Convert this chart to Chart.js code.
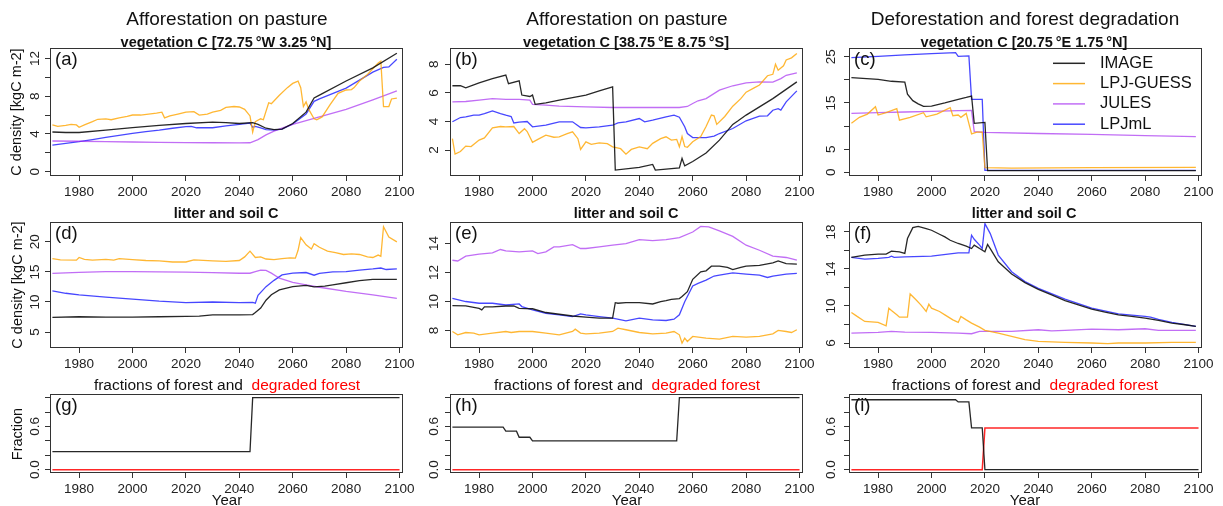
<!DOCTYPE html>
<html>
<head>
<meta charset="utf-8">
<script src="https://cdn.jsdelivr.net/npm/chart.js@4.4.0/dist/chart.umd.min.js"></script>
<style>
  body { margin: 0; background: #fff; width: 1223px; height: 506px; overflow: hidden; position: relative;
         font-family: 'Liberation Sans', Arial, Helvetica, sans-serif; color: #111; }
  canvas { position: absolute; }
  .t { position: absolute; white-space: nowrap; line-height: 1; transform: translate(-50%, -50%); }
  .lett { position: absolute; white-space: nowrap; line-height: 1; transform: translate(0, -50%); font-size: 18.5px; }
</style>
</head>
<body>
<script>
// ---- data: [year, value] ----
const xTicks = [1980, 2000, 2020, 2040, 2060, 2080, 2100];
const modelNames = ['IMAGE', 'LPJ-GUESS', 'JULES', 'LPJmL'];
const fracNames = ['forest', 'degraded forest'];

// (a) vegetation C 72.75W 3.25N
const vegA_image = [[1970,4.2],[1975,4.15],[1980,4.15],[1990,4.4],[2000,4.66],[2010,4.9],[2020,5.1],[2030,5.25],[2035,5.2],[2040,5.1],[2045,5.2],[2047,5.0],[2050,4.6],[2053,4.45],[2056,4.5],[2060,5.1],[2065,6.3],[2068,7.8],[2070,8.1],[2080,9.6],[2090,11.0],[2099,12.55]];
const vegA_guess = [[1970,4.95],[1972,4.8],[1975,4.9],[1977,5.0],[1979,4.95],[1980,4.7],[1982,4.95],[1985,5.3],[1987,5.55],[1990,5.6],[1992,5.5],[1995,5.7],[1998,5.85],[2000,6.0],[2003,6.0],[2006,6.1],[2009,6.2],[2011,6.3],[2012,5.7],[2014,5.9],[2017,6.1],[2020,6.3],[2023,6.35],[2025,6.0],[2028,6.1],[2030,6.3],[2033,6.5],[2035,6.8],[2038,6.9],[2040,6.85],[2042,6.6],[2044,5.9],[2045,4.2],[2046,5.3],[2048,5.6],[2049,5.5],[2051,7.3],[2052,7.2],[2055,8.1],[2058,8.9],[2060,9.35],[2062,9.6],[2063,8.9],[2064,6.9],[2065,7.4],[2066,6.6],[2068,5.6],[2069,5.5],[2071,5.8],[2074,7.1],[2077,8.3],[2080,8.65],[2082,8.7],[2083,8.9],[2085,9.6],[2088,10.3],[2090,10.9],[2092,11.5],[2093,11.7],[2094,6.9],[2096,6.9],[2097,7.7],[2099,7.8]];
const vegA_jules = [[1970,3.25],[1980,3.22],[1990,3.18],[2000,3.14],[2010,3.1],[2020,3.08],[2030,3.06],[2040,3.05],[2044,3.06],[2047,3.4],[2050,3.9],[2053,4.3],[2056,4.6],[2060,5.0],[2070,5.8],[2080,6.6],[2090,7.6],[2099,8.55]];
const vegA_lpjml = [[1970,2.82],[1975,3.0],[1980,3.18],[1985,3.4],[1990,3.64],[1995,3.85],[2000,4.06],[2005,4.25],[2010,4.4],[2015,4.6],[2020,4.76],[2022,4.8],[2024,4.65],[2030,4.65],[2035,4.84],[2040,5.0],[2044,5.15],[2045,4.7],[2046,4.8],[2048,4.65],[2050,4.45],[2053,4.4],[2056,4.5],[2060,5.05],[2065,6.1],[2068,7.45],[2070,7.7],[2080,8.85],[2090,10.55],[2094,11.05],[2096,11.1],[2099,11.9]];

// (b) vegetation C 38.75E 8.75S
const vegB_image = [[1970,6.5],[1973,6.5],[1975,6.35],[1980,6.7],[1985,7.0],[1990,7.25],[1991,6.65],[1995,6.85],[1996,5.85],[1999,5.75],[2000,5.85],[2001,5.2],[2005,5.3],[2010,5.5],[2020,5.85],[2025,6.15],[2030,6.42],[2031,0.6],[2040,0.8],[2045,1.0],[2046,0.6],[2055,0.75],[2056,1.42],[2057,0.9],[2060,1.2],[2065,1.8],[2070,2.7],[2075,3.8],[2077,4.05],[2080,4.45],[2090,5.6],[2099,6.77]];
const vegB_guess = [[1970,2.8],[1971,1.72],[1973,1.9],[1975,2.28],[1977,2.25],[1980,2.7],[1982,2.85],[1985,3.55],[1988,3.65],[1990,3.63],[1993,3.65],[1995,3.16],[1997,3.5],[1998,3.3],[2000,2.55],[2002,2.75],[2005,3.05],[2008,2.9],[2010,2.93],[2013,3.15],[2015,3.28],[2017,2.8],[2018,2.05],[2020,2.58],[2022,2.4],[2025,2.5],[2028,2.45],[2030,2.23],[2033,2.1],[2035,1.72],[2037,2.05],[2040,2.23],[2043,2.1],[2045,2.47],[2048,2.8],[2050,2.93],[2052,2.7],[2054,2.75],[2055,2.23],[2056,2.95],[2057,2.25],[2058,2.2],[2060,2.58],[2063,2.95],[2065,3.65],[2067,4.45],[2068,4.4],[2069,3.8],[2072,4.35],[2075,5.07],[2078,5.6],[2080,6.05],[2083,6.35],[2085,6.55],[2088,7.2],[2090,7.3],[2091,8.0],[2092,7.58],[2094,7.9],[2095,8.3],[2097,8.45],[2099,8.75]];
const vegB_jules = [[1970,5.37],[1975,5.4],[1980,5.49],[1985,5.6],[1990,5.55],[1995,5.55],[1999,5.5],[2000,5.2],[2005,5.15],[2010,5.07],[2020,5.02],[2030,4.98],[2040,4.98],[2050,4.98],[2055,4.98],[2058,5.05],[2060,5.26],[2062,5.45],[2065,5.6],[2070,6.19],[2075,6.5],[2080,6.7],[2085,6.77],[2090,6.75],[2093,7.0],[2095,7.23],[2099,7.4]];
const vegB_lpjml = [[1970,3.98],[1973,4.28],[1975,4.33],[1978,4.45],[1980,4.44],[1982,4.55],[1985,4.74],[1988,4.55],[1990,4.44],[1992,4.35],[1993,3.9],[1995,3.95],[1998,4.0],[2000,3.63],[2005,3.74],[2010,3.98],[2015,3.98],[2018,3.58],[2020,3.56],[2025,3.63],[2030,3.74],[2032,3.9],[2035,3.98],[2040,4.21],[2042,3.98],[2045,4.1],[2050,4.33],[2053,4.44],[2055,4.3],[2057,3.63],[2058,3.16],[2060,2.88],[2065,2.88],[2068,2.98],[2070,3.16],[2075,3.51],[2080,4.05],[2085,4.37],[2088,4.4],[2090,4.79],[2092,4.9],[2093,4.8],[2095,5.37],[2099,6.14]];

// (c) vegetation C 20.75E 1.75N
const vegC_image = [[1970,20.5],[1980,20.1],[1985,19.7],[1990,19.5],[1991,16.9],[1993,15.5],[1995,14.8],[1997,14.25],[2000,14.3],[2005,15.0],[2010,15.8],[2013,16.2],[2015,16.5],[2016,10.6],[2020,10.8],[2021,0.35],[2099,0.35]];
const vegC_guess = [[1970,10.6],[1973,11.9],[1976,12.6],[1979,14.2],[1980,12.4],[1983,12.9],[1987,13.8],[1988,11.3],[1992,11.9],[1997,12.9],[1998,12.0],[2002,12.6],[2007,14.0],[2008,12.25],[2010,12.4],[2011,11.9],[2013,12.75],[2015,8.3],[2017,8.7],[2019,8.7],[2020,1.0],[2030,0.9],[2060,1.0],[2099,1.05]];
const vegC_jules = [[1970,12.75],[1980,12.9],[1990,13.05],[2000,13.2],[2010,13.35],[2015,13.4],[2016,8.8],[2020,8.65],[2040,8.4],[2060,8.2],[2080,7.95],[2099,7.7]];
const vegC_lpjml = [[1970,24.8],[1980,25.1],[1990,25.4],[2000,25.7],[2009,25.9],[2010,25.1],[2014,25.2],[2015,15.8],[2019,15.8],[2020,0.4],[2099,0.4]];

// (d) litter and soil C, site of (a)
const soilD_image = [[1970,7.45],[1980,7.55],[1990,7.5],[2000,7.5],[2010,7.55],[2020,7.6],[2025,7.65],[2030,7.85],[2040,7.85],[2045,7.9],[2046,8.25],[2048,9.0],[2050,10.3],[2052,11.2],[2055,12.0],[2060,12.55],[2065,12.75],[2068,12.5],[2072,12.65],[2075,12.85],[2080,13.2],[2085,13.55],[2090,13.75],[2099,13.75]];
const soilD_guess = [[1970,17.2],[1973,17.0],[1979,16.95],[1980,17.4],[1982,17.1],[1985,16.95],[1990,17.1],[1993,16.95],[1995,17.2],[2000,17.05],[2005,16.9],[2010,16.85],[2015,16.65],[2020,16.65],[2023,17.0],[2030,16.85],[2035,16.75],[2040,16.9],[2042,17.5],[2044,18.45],[2046,17.4],[2048,17.5],[2050,17.15],[2053,17.05],[2056,17.2],[2059,17.35],[2061,17.3],[2062,18.6],[2063,20.7],[2065,19.5],[2067,18.8],[2068,19.7],[2070,19.1],[2073,18.45],[2076,18.2],[2079,17.9],[2082,18.0],[2085,17.9],[2088,17.5],[2090,17.4],[2092,17.8],[2093,17.6],[2094,22.5],[2096,20.8],[2099,20.0]];
const soilD_jules = [[1970,14.76],[1980,14.93],[1990,15.04],[2000,15.05],[2010,15.0],[2020,14.95],[2030,14.87],[2040,14.78],[2044,14.78],[2046,15.05],[2048,15.3],[2050,15.25],[2052,14.8],[2055,13.95],[2060,13.25],[2065,12.85],[2070,12.45],[2080,11.75],[2090,11.2],[2099,10.6]];
const soilD_lpjml = [[1970,11.84],[1975,11.45],[1980,11.18],[1990,10.8],[2000,10.46],[2010,10.13],[2020,9.9],[2030,10.0],[2040,9.9],[2045,9.95],[2046,9.8],[2047,11.1],[2050,12.55],[2053,13.6],[2056,14.5],[2060,14.8],[2065,14.9],[2068,14.45],[2070,14.75],[2075,15.0],[2080,15.05],[2085,15.3],[2090,15.5],[2093,15.65],[2095,15.4],[2099,15.5]];

// (e) litter and soil C, site of (b)
const soilE_image = [[1970,9.72],[1975,9.7],[1980,9.53],[1981,9.42],[1982,9.63],[1985,9.63],[1990,9.69],[1993,9.69],[1995,9.53],[2000,9.5],[2005,9.24],[2010,9.12],[2015,9.0],[2020,8.92],[2025,8.85],[2030,8.85],[2031,9.92],[2032,9.88],[2035,9.92],[2040,9.92],[2045,9.83],[2048,9.99],[2050,10.06],[2052,10.15],[2055,10.2],[2056,10.34],[2058,10.68],[2060,11.53],[2063,12.05],[2065,12.12],[2067,12.44],[2070,12.44],[2073,12.35],[2075,12.2],[2078,12.35],[2080,12.44],[2085,12.5],[2088,12.6],[2090,12.67],[2092,12.8],[2095,12.62],[2099,12.58]];
const soilE_guess = [[1970,7.93],[1972,7.7],[1975,7.86],[1978,7.82],[1980,7.7],[1985,7.82],[1990,7.93],[1992,7.86],[1995,7.93],[2000,7.93],[2005,7.82],[2010,7.7],[2015,7.93],[2016,8.09],[2018,7.82],[2020,7.77],[2025,7.82],[2030,7.93],[2032,8.16],[2035,8.05],[2040,7.86],[2045,7.77],[2050,7.82],[2053,7.93],[2055,7.7],[2056,7.13],[2057,7.47],[2058,7.24],[2060,7.59],[2065,7.47],[2070,7.4],[2075,7.59],[2080,7.54],[2085,7.59],[2088,7.7],[2090,7.77],[2092,8.0],[2095,7.93],[2097,7.86],[2099,8.05]];
const soilE_jules = [[1970,12.85],[1972,12.8],[1975,13.13],[1980,13.27],[1985,13.36],[1988,13.59],[1990,13.5],[1995,13.43],[2000,13.5],[2002,13.31],[2005,13.43],[2008,13.77],[2010,13.77],[2015,13.93],[2018,13.66],[2020,13.66],[2025,13.77],[2030,13.89],[2035,14.0],[2040,14.27],[2045,14.2],[2050,14.27],[2055,14.41],[2060,14.8],[2063,15.19],[2066,15.15],[2070,14.87],[2075,14.5],[2080,13.89],[2085,13.54],[2090,13.13],[2095,13.04],[2099,12.85]];
const soilE_lpjml = [[1970,10.22],[1975,10.0],[1980,9.88],[1985,9.88],[1990,9.76],[1995,9.83],[1996,9.65],[2000,9.42],[2005,9.19],[2010,9.08],[2015,8.96],[2018,9.14],[2020,9.08],[2025,8.96],[2030,8.85],[2035,8.66],[2040,8.85],[2045,8.73],[2050,8.69],[2053,8.78],[2055,9.08],[2057,9.99],[2060,11.07],[2062,11.25],[2065,11.48],[2068,11.76],[2070,11.82],[2075,11.98],[2080,11.89],[2085,11.82],[2088,11.66],[2090,11.76],[2095,11.89],[2099,11.94]];

// (f) litter and soil C, site of (c)
const soilF_image = [[1970,15.24],[1975,15.49],[1980,15.6],[1983,15.6],[1985,15.92],[1988,15.85],[1990,15.67],[1991,17.28],[1993,18.46],[1995,18.6],[1998,18.36],[2000,18.18],[2003,17.75],[2005,17.46],[2007,17.1],[2010,16.75],[2013,16.46],[2015,16.2],[2016,16.57],[2018,16.2],[2020,15.85],[2021,16.64],[2022,16.2],[2025,14.78],[2030,13.45],[2035,12.52],[2040,11.8],[2045,11.19],[2050,10.58],[2055,10.12],[2060,9.65],[2065,9.33],[2070,9.04],[2075,8.87],[2080,8.69],[2085,8.44],[2090,8.15],[2095,7.97],[2099,7.79]];
const soilF_guess = [[1970,9.3],[1972,8.9],[1975,8.33],[1980,8.22],[1983,7.86],[1984,9.76],[1985,9.5],[1987,9.04],[1988,8.79],[1991,8.79],[1992,11.3],[1994,10.73],[1996,10.12],[1998,9.4],[1999,10.19],[2000,9.76],[2003,9.4],[2005,9.04],[2008,8.5],[2010,8.22],[2011,8.87],[2013,8.5],[2015,8.15],[2018,7.72],[2020,7.36],[2025,7.07],[2030,6.72],[2035,6.36],[2040,6.18],[2050,6.07],[2060,6.0],[2066,5.93],[2070,6.0],[2080,6.0],[2090,6.07],[2099,6.07]];
const soilF_jules = [[1970,7.07],[1980,7.15],[1985,7.25],[1990,7.18],[2000,7.15],[2010,7.07],[2015,7.0],[2018,7.25],[2020,7.25],[2030,7.25],[2040,7.43],[2045,7.32],[2050,7.36],[2060,7.5],[2070,7.43],[2080,7.54],[2085,7.36],[2090,7.36],[2099,7.36]];
const soilF_lpjml = [[1970,15.24],[1975,15.06],[1980,15.13],[1984,15.24],[1985,15.38],[1986,15.24],[1990,15.31],[2000,15.38],[2010,15.74],[2014,15.74],[2015,17.64],[2016,17.2],[2018,16.57],[2019,16.2],[2020,18.9],[2022,17.82],[2025,15.5],[2030,13.7],[2035,12.63],[2040,11.9],[2050,10.73],[2060,9.76],[2070,9.15],[2080,8.87],[2082,8.8],[2085,8.55],[2090,8.22],[2099,7.79]];

// (g)-(i) fractions of forest and degraded forest
const fracG_forest = [[1970,0.25],[2044,0.25],[2045,1.0],[2100,1.0]];
const fracG_degraded = [[1970,0],[2100,0]];
const fracH_forest = [[1970,0.59],[1989,0.59],[1990,0.535],[1994,0.535],[1995,0.45],[1999,0.45],[2000,0.4],[2054,0.4],[2055,1.0],[2100,1.0]];
const fracH_degraded = [[1970,0],[2100,0]];
const fracI_forest = [[1970,0.97],[2009,0.97],[2010,0.94],[2014,0.94],[2015,0.58],[2019,0.58],[2020,0],[2100,0]];
const fracI_degraded = [[1970,0],[2019,0],[2020,0.58],[2100,0.58]];

// y tick marks and which of them carry a label
const yTicksA = [0, 2, 4, 6, 8, 10, 12], yLabA = [0, 4, 8, 12];
const yTicksB = [2, 4, 6, 8], yLabB = [2, 4, 6, 8];
const yTicksC = [0, 5, 10, 15, 20, 25], yLabC = [0, 5, 15, 25];
const yTicksD = [5, 10, 15, 20], yLabD = [5, 10, 15, 20];
const yTicksE = [8, 10, 12, 14], yLabE = [8, 10, 12, 14];
const yTicksF = [6, 8, 10, 12, 14, 16, 18], yLabF = [6, 10, 14, 18];
const yTicksFr = [0, 0.2, 0.4, 0.6, 0.8, 1.0], yLabFr = [0, 0.6];

// ---- styling / layout ----
const modelColors = ['rgba(15,15,15,0.9)', 'rgba(255,165,0,0.8)', 'rgba(160,32,240,0.65)', 'rgba(0,0,255,0.72)'];
const fracColors = ['rgba(15,15,15,0.9)', 'rgba(255,0,0,0.85)'];
const colL = [50, 450, 849], colW = 353;
const rowT = [48, 222, 394], rowH = [128, 126, 79];

const panels = [
  {col: 0, row: 0, series: [vegA_image, vegA_guess, vegA_jules, vegA_lpjml], names: modelNames, colors: modelColors, ymin: -0.46, ymax: 13.1, ticks: yTicksA, labs: yLabA, dec: 0, pad: 2.5},
  {col: 1, row: 0, series: [vegB_image, vegB_guess, vegB_jules, vegB_lpjml], names: modelNames, colors: modelColors, ymin: 0.19, ymax: 9.14, ticks: yTicksB, labs: yLabB, dec: 0, pad: 7},
  {col: 2, row: 0, series: [vegC_image, vegC_guess, vegC_jules, vegC_lpjml], names: modelNames, colors: modelColors, ymin: -0.8, ymax: 26.9, ticks: yTicksC, labs: yLabC, dec: 0, pad: 5, legend: true},
  {col: 0, row: 1, series: [soilD_image, soilD_guess, soilD_jules, soilD_lpjml], names: modelNames, colors: modelColors, ymin: 2.35, ymax: 23.3, ticks: yTicksD, labs: yLabD, dec: 0, pad: 2.5},
  {col: 1, row: 1, series: [soilE_image, soilE_guess, soilE_jules, soilE_lpjml], names: modelNames, colors: modelColors, ymin: 6.79, ymax: 15.49, ticks: yTicksE, labs: yLabE, dec: 0, pad: 3.5},
  {col: 2, row: 1, series: [soilF_image, soilF_guess, soilF_jules, soilF_lpjml], names: modelNames, colors: modelColors, ymin: 5.46, ymax: 19.07, ticks: yTicksF, labs: yLabF, dec: 0, pad: 5},
  {col: 0, row: 2, series: [fracG_forest, fracG_degraded], names: fracNames, colors: fracColors, ymin: -0.046, ymax: 1.05, ticks: yTicksFr, labs: yLabFr, dec: 1, pad: 0.6},
  {col: 1, row: 2, series: [fracH_forest, fracH_degraded], names: fracNames, colors: fracColors, ymin: -0.046, ymax: 1.05, ticks: yTicksFr, labs: yLabFr, dec: 1, pad: 1.6},
  {col: 2, row: 2, series: [fracI_forest, fracI_degraded], names: fracNames, colors: fracColors, ymin: -0.046, ymax: 1.05, ticks: yTicksFr, labs: yLabFr, dec: 1, pad: 3}
];

Chart.defaults.font.family = "'Liberation Sans', Arial, Helvetica, sans-serif";
Chart.defaults.color = '#222';

// box around the plot region, like R's box()
const framePlugin = {
  id: 'frame',
  afterDatasetsDraw(chart) {
    const {ctx, chartArea: a} = chart;
    ctx.save();
    ctx.strokeStyle = '#333';
    ctx.lineWidth = 1;
    ctx.strokeRect(a.left + 0.5, a.top + 0.5, a.width - 1, a.height - 1);
    ctx.restore();
  }
};

// legend inside the plot area (panel c)
const legendPlugin = {
  id: 'inlegend',
  afterDraw(chart, args, o) {
    if (!o || !o.show) return;
    const {ctx, chartArea: a} = chart;
    ctx.save();
    ctx.font = '16.5px ' + Chart.defaults.font.family;
    ctx.textBaseline = 'middle';
    chart.data.datasets.forEach((ds, i) => {
      const y = a.top + o.y0 + i * o.dy;
      ctx.strokeStyle = ds.borderColor;
      ctx.lineWidth = 1.5;
      ctx.beginPath();
      ctx.moveTo(a.left + o.x0, y);
      ctx.lineTo(a.left + o.x1, y);
      ctx.stroke();
      ctx.fillStyle = '#111';
      ctx.fillText(ds.label, a.left + o.xt, y);
    });
    ctx.restore();
  }
};

panels.forEach(p => {
  const l = colL[p.col], t = rowT[p.row], h = rowH[p.row];
  const cv = document.createElement('canvas');
  cv.width = colW + 70;
  cv.height = h + 45;
  cv.style.left = (l - 50) + 'px';
  cv.style.top = (t - 20) + 'px';
  document.body.appendChild(cv);

  new Chart(cv, {
    type: 'line',
    data: {
      datasets: p.series.map((s, i) => ({
        label: p.names[i],
        data: s.map(([x, y]) => ({x, y})),
        borderColor: p.colors[i],
        borderWidth: p.names[i] === 'degraded forest' ? 1.5 : 1.3,
        pointRadius: 0,
        tension: 0,
        fill: false
      }))
    },
    options: {
      responsive: false,
      animation: false,
      events: [],
      layout: {padding: {top: 20, right: 20, left: 0, bottom: 0}},
      plugins: {
        legend: {display: false},
        tooltip: {enabled: false},
        inlegend: {show: !!p.legend, x0: 204, x1: 236, xt: 251, y0: 15.3, dy: 20.3}
      },
      scales: {
        x: {
          type: 'linear', min: 1969.1, max: 2101.3,
          afterBuildTicks: s => { s.ticks = xTicks.map(v => ({value: v})); },
          afterFit: s => { s.height = 25; },
          grid: {drawOnChartArea: false, drawTicks: true, tickLength: 5, color: '#333'},
          border: {display: false},
          ticks: {autoSkip: false, maxRotation: 0, minRotation: 0, padding: 3, font: {size: 13.5}, color: '#222',
                  callback: v => String(v)}
        },
        y: {
          type: 'linear', min: p.ymin, max: p.ymax,
          afterBuildTicks: s => { s.ticks = p.ticks.map(v => ({value: v})); },
          afterFit: s => { s.width = 50; },
          grid: {drawOnChartArea: false, drawTicks: true, tickLength: 5, color: '#333'},
          border: {display: false},
          ticks: {autoSkip: false, minRotation: 90, maxRotation: 90, crossAlign: 'center', padding: p.pad,
                  font: {size: 13.5}, color: '#222',
                  callback: v => p.labs.includes(v) ? v.toFixed(p.dec) : ''}
        }
      }
    },
    plugins: [framePlugin, legendPlugin]
  });
});

// ---- titles and axis labels ----
const colC = [227, 627, 1025];
const texts = [];
const mainTitles = ['Afforestation on pasture', 'Afforestation on pasture', 'Deforestation and forest degradation'];
const vegTitles = ['vegetation C [72.75\u2009°W 3.25\u2009°N]', 'vegetation C [38.75\u2009°E 8.75\u2009°S]', 'vegetation C [20.75\u2009°E 1.75\u2009°N]'];
const letters = ['(a)', '(b)', '(c)', '(d)', '(e)', '(f)', '(g)', '(h)', '(i)'];
for (let c = 0; c < 3; c++) {
  texts.push({html: mainTitles[c], x: colC[c], y: 18, size: 19});
  texts.push({html: vegTitles[c], x: colC[c] - 1, y: 42, size: 14.5, bold: true});
  texts.push({html: 'litter and soil C', x: colC[c] - 1, y: 213, size: 14.5, bold: true});
  texts.push({html: 'fractions of forest and&nbsp; <span style="color:#ff0000">degraded forest</span>', x: colC[c], y: 385, size: 15.5});
  texts.push({html: 'Year', x: colC[c], y: 499, size: 15});
}
texts.push({html: 'C density [kgC m-2]', x: 16, y: 112, size: 14.5, rot: true});
texts.push({html: 'C density [kgC m-2]', x: 16.5, y: 285, size: 14.5, rot: true});
texts.push({html: 'Fraction', x: 16.5, y: 433.5, size: 14.5, rot: true});

texts.forEach(o => {
  const d = document.createElement('div');
  d.className = 't';
  d.innerHTML = o.html;
  d.style.left = o.x + 'px';
  d.style.top = o.y + 'px';
  d.style.fontSize = o.size + 'px';
  if (o.bold) d.style.fontWeight = 'bold';
  if (o.rot) d.style.transform = 'translate(-50%, -50%) rotate(-90deg)';
  document.body.appendChild(d);
});

panels.forEach((p, i) => {
  const d = document.createElement('div');
  d.className = 'lett';
  d.textContent = letters[i];
  d.style.left = (colL[p.col] + 5) + 'px';
  d.style.top = (rowT[p.row] + 11) + 'px';
  document.body.appendChild(d);
});
</script>
</body>
</html>
